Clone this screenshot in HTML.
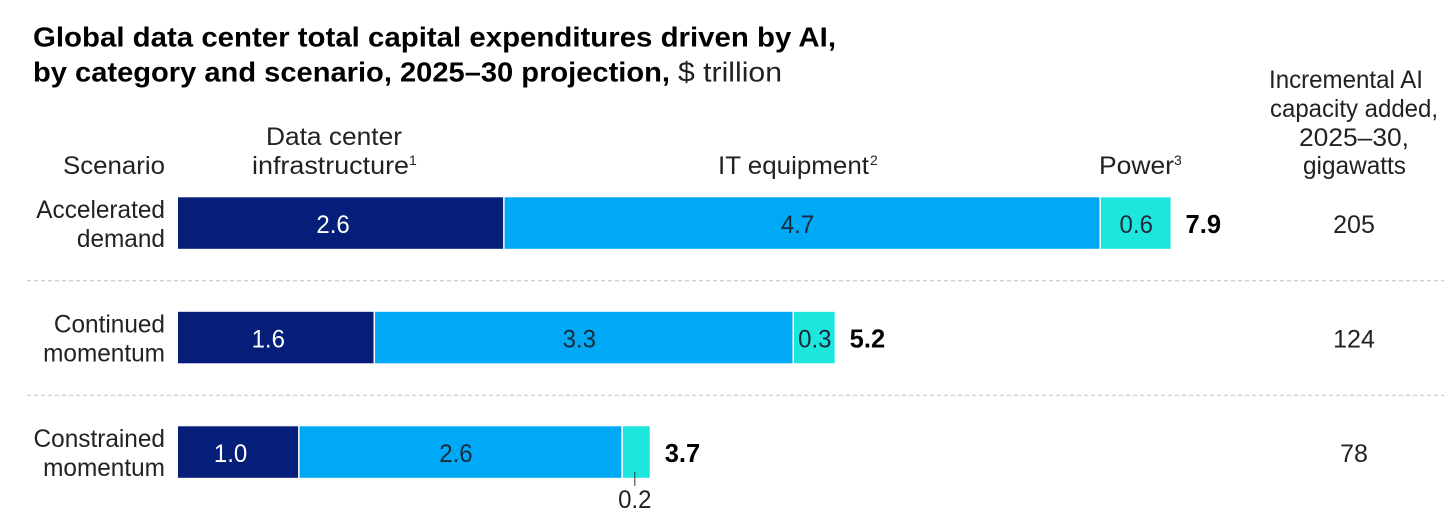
<!DOCTYPE html>
<html lang="en">
<head>
<meta charset="utf-8">
<title>Global data center capital expenditures</title>
<style>
html,body{margin:0;padding:0;background:#fff;width:1456px;height:524px;overflow:hidden}
svg{display:block}
text{font-family:"Liberation Sans",sans-serif;font-size:25px;fill:#222}
.t{font-size:27.5px}
.b{font-weight:700;fill:#000}
.tot{font-size:25.5px}
.sup{font-size:14px}
</style>
</head>
<body>
<svg id="chart" width="1456" height="524" viewBox="0 0 1456 524" xmlns="http://www.w3.org/2000/svg">
<rect width="1456" height="524" fill="#fff"/>
<text class="b t" x="33" y="46.6" textLength="803" lengthAdjust="spacingAndGlyphs">Global data center total capital expenditures driven by AI,</text>
<text class="b t" x="33" y="81.6" textLength="637" lengthAdjust="spacingAndGlyphs">by category and scenario, 2025–30 projection,</text>
<text class="t" x="678" y="81.6" textLength="104" lengthAdjust="spacingAndGlyphs">$ trillion</text>
<text x="165" y="174" text-anchor="end" textLength="102" lengthAdjust="spacingAndGlyphs">Scenario</text>
<text x="266" y="145" textLength="136" lengthAdjust="spacingAndGlyphs">Data center</text>
<text x="252" y="174" textLength="157" lengthAdjust="spacingAndGlyphs">infrastructure</text>
<text class="sup" x="409" y="165">1</text>
<text x="718" y="174" textLength="151" lengthAdjust="spacingAndGlyphs">IT equipment</text>
<text class="sup" x="870" y="165">2</text>
<text x="1099" y="174" textLength="75" lengthAdjust="spacingAndGlyphs">Power</text>
<text class="sup" x="1174" y="165">3</text>
<text x="1269" y="88" textLength="154" lengthAdjust="spacingAndGlyphs">Incremental AI</text>
<text x="1270" y="117" textLength="168" lengthAdjust="spacingAndGlyphs">capacity added,</text>
<text x="1299" y="146" textLength="110" lengthAdjust="spacingAndGlyphs">2025–30,</text>
<text x="1303" y="174" textLength="103" lengthAdjust="spacingAndGlyphs">gigawatts</text>
<g id="plot"></g>
</svg>
<script>
const scenarioFirstLine = ["Accelerated", "Continued", "Constrained"];
const scenarioSecondLine = ["demand", "momentum", "momentum"];
const infrastructure = [2.59, 1.56, 0.96];
const itEquipment = [4.74, 3.33, 2.57];
const power = [0.56, 0.33, 0.22];
const totals = [7.9, 5.2, 3.7];
const capacity = [205, 124, 78];

const NS = "http://www.w3.org/2000/svg";
const plot = document.getElementById("plot");
const x0 = 178, pxPerTrillion = 125.8, rowStart = 197.3, rowStep = 114.5, barH = 51.5;
const xPos = v => x0 + v * pxPerTrillion;
const yPos = i => rowStart + i * rowStep;
const seriesKeys = ["infrastructure", "it-equipment", "power"];
const seriesVals = [infrastructure, itEquipment, power];
const seriesFill = ["#051e7a", "#00a9f5", "#1de6dc"];
const seriesText = ["#ffffff", "#1a2a3a", "#1a2a3a"];
const seriesLabelShift = [-7.5, -4.5, 0.5];

function mk(tag, attrs, txt) {
  const el = document.createElementNS(NS, tag);
  for (const k in attrs) el.setAttribute(k, attrs[k]);
  if (txt !== undefined) el.textContent = txt;
  plot.appendChild(el);
  return el;
}
function squeeze(el, f) {
  el.setAttribute("lengthAdjust", "spacingAndGlyphs");
  el.setAttribute("textLength", el.getComputedTextLength() * f);
}

scenarioFirstLine.forEach((name, i) => {
  const y = yPos(i);
  if (i > 0) {
    const sep = mk("line", {x1: 27, x2: 1444, y1: y - 31, y2: y - 31, stroke: "#c4c4c4", "stroke-width": 1, "stroke-dasharray": "4 3"});
    
    
  }
  const l1 = mk("text", {x: 165, y: y + 20.5, "text-anchor": "end"}, name);
  
  
  squeeze(l1, 0.975);
  const l2 = mk("text", {x: 165, y: y + 49.5, "text-anchor": "end"}, scenarioSecondLine[i]);
  
  
  squeeze(l2, 0.975);

  let cum = 0;
  seriesVals.forEach((vals, s) => {
    const v = vals[i];
    const xa = xPos(cum) + (s > 0 ? 0.8 : 0), xb = xPos(cum + v) - (s < 2 ? 0.7 : 0);
    const bar = mk("rect", {x: xa, y: y, width: Math.max(0, xb - xa), height: barH, fill: seriesFill[s]});
    
    
    const mid = (xa + xb) / 2;
    if (v >= 0.3) {
      const t = mk("text", {x: mid + seriesLabelShift[s], y: y + 35.5, "text-anchor": "middle", style: "fill:" + seriesText[s]}, v.toFixed(1));
      
      
      squeeze(t, 0.96);
    } else {
      const lead = mk("line", {x1: mid - 1.5, x2: mid - 1.5, y1: y + barH - 6, y2: y + barH + 8, stroke: "#333", "stroke-width": 1});
      
      
      const t = mk("text", {x: mid - 1.5, y: y + barH + 30, "text-anchor": "middle"}, v.toFixed(1));
      
      
      squeeze(t, 0.96);
    }
    cum += v;
  });

  const tot = mk("text", {x: xPos(cum) + 15, y: y + 35.5, class: "b tot"}, totals[i].toFixed(1));
  
  
  const cap = mk("text", {x: 1354, y: y + 35.5, "text-anchor": "middle"}, capacity[i]);
  
  
});
</script>
</body>
</html>
